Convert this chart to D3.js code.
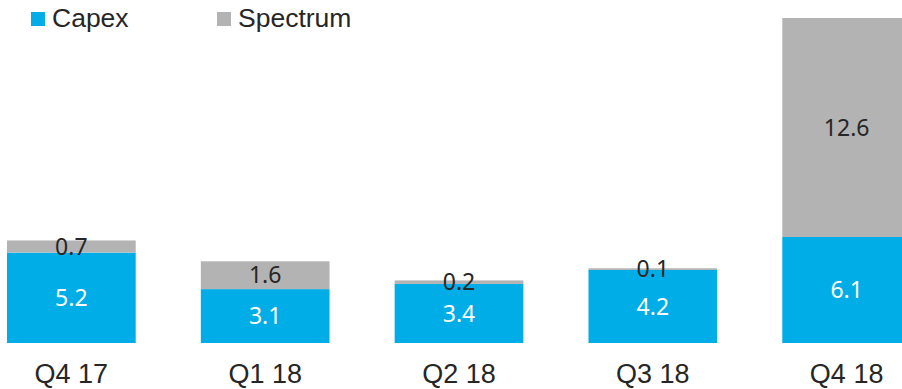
<!DOCTYPE html>
<html>
<head>
<meta charset="utf-8">
<script src="https://cdn.jsdelivr.net/npm/d3@7/dist/d3.min.js"></script>
<style>
  html, body { margin: 0; padding: 0; background: #fff; }
  svg { display: block; }
</style>
</head>
<body>
<svg id="chart" width="902" height="389"></svg>
<script>
// Quarterly investment, stacked: capex + spectrum
const quarters = ["Q4 17", "Q1 18", "Q2 18", "Q3 18", "Q4 18"];
const capex    = [5.2, 3.1, 3.4, 4.2, 6.1];
const spectrum = [0.7, 1.6, 0.2, 0.1, 12.6];
const seriesNames = ["Capex", "Spectrum"];
const seriesColors = ["#00ade6", "#b3b3b3"];

const svg = d3.select("#chart");

const rows = quarters.map((q, i) => ({ quarter: q, Capex: capex[i], Spectrum: spectrum[i] }));
const stacked = d3.stack().keys(seriesNames)(rows);

const x = d3.scaleBand()
  .domain(quarters)
  .range([7, 911])
  .paddingInner(0.336)
  .paddingOuter(0);

const y = d3.scaleLinear()
  .domain([0, 18.7])
  .range([343, 18]);

const color = d3.scaleOrdinal().domain(seriesNames).range(seriesColors);

// bars
const layers = svg.append("g").selectAll("g")
  .data(stacked)
  .join("g")
  .attr("fill", d => color(d.key));

layers.selectAll("rect")
  .data(d => d)
  .join("rect")
  .attr("x", d => x(d.data.quarter))
  .attr("width", x.bandwidth())
  .attr("y", d => y(d[1]))
  .attr("height", d => y(d[0]) - y(d[1]));

// value labels, centred in each segment
const labelFont = "'Noto Sans', 'Open Sans', sans-serif";
stacked.forEach(layer => {
  svg.append("g").selectAll("text")
    .data(layer)
    .join("text")
    .attr("x", d => x(d.data.quarter) + x.bandwidth() / 2)
    .attr("y", d => (y(d[0]) + y(d[1])) / 2)
    .attr("dy", "0.35em")
    .attr("text-anchor", "middle")
    .attr("font-family", labelFont)
    .attr("font-size", 23)
    .attr("fill", layer.key === "Capex" ? "#ffffff" : "#262626")
    .text(d => d3.format(".1f")(d.data[layer.key]));
});

// category axis (no line, no ticks)
const xAxis = svg.append("g")
  .attr("transform", "translate(0,343)")
  .call(d3.axisBottom(x).tickSize(0).tickPadding(40));
xAxis.select(".domain").remove();
xAxis.selectAll("text")
  .attr("font-family", "'Liberation Sans', Arial, sans-serif")
  .attr("font-size", 27)
  .attr("fill", "#262626")
  .attr("dy", 0);

// legend
const legendX = [31, 217];
const legend = svg.append("g").selectAll("g")
  .data(seriesNames)
  .join("g")
  .attr("transform", (d, i) => `translate(${legendX[i]},12)`);
legend.append("rect")
  .attr("width", 14)
  .attr("height", 14)
  .attr("fill", d => color(d));
legend.append("text")
  .attr("x", 21)
  .attr("y", 15)
  .attr("font-family", "'Liberation Sans', Arial, sans-serif")
  .attr("font-size", 26.5)
  .attr("fill", "#262626")
  .text(d => d);
</script>
</body>
</html>
